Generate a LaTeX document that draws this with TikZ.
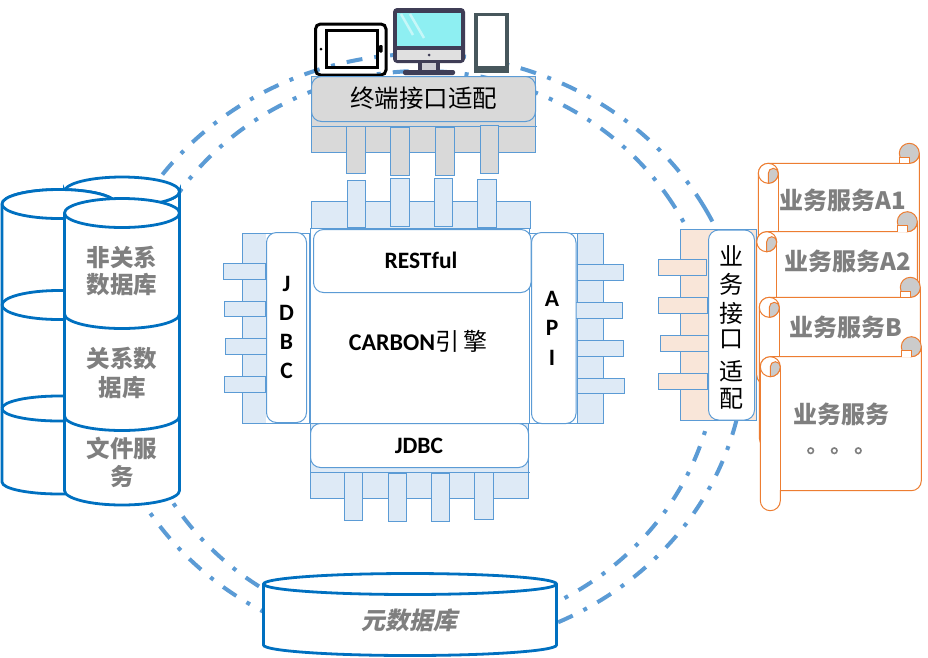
\documentclass[tikz,border=0pt]{standalone}
\usepackage{fontspec}
\setmainfont{Carlito}
\newfontfamily\cjk{Noto Sans CJK SC}
\definecolor{dashblue}{HTML}{5B9BD5}
\definecolor{edgeblue}{HTML}{5B9BD5}
\definecolor{paleblue}{HTML}{DEEAF6}
\definecolor{cylblue}{HTML}{0070C0}
\definecolor{scrollor}{HTML}{ED7D31}
\definecolor{peach}{HTML}{F9E6D9}
\definecolor{greybox}{HTML}{D9D9D9}
\definecolor{greytext}{HTML}{7F7F7F}
\definecolor{rollgrey}{HTML}{CBCBCB}
\definecolor{iconink}{HTML}{3F3D56}
\definecolor{screencyan}{HTML}{8EEFF2}
\definecolor{phoneink}{HTML}{47575C}
\tikzset{
  ring/.style={draw=dashblue,line width=4pt,dash pattern=on 16pt off 12pt on 4pt off 12pt},
  bluebox/.style={draw=edgeblue,fill=paleblue,line width=1pt},
  greyrect/.style={draw=edgeblue,fill=greybox,line width=1pt},
  peachbox/.style={draw=edgeblue,fill=peach,line width=1pt},
  whitebox/.style={draw=edgeblue,fill=white,line width=1pt,rounded corners=10pt},
  cylline/.style={draw=cylblue,line width=2.8pt},
  scrollline/.style={draw=scrollor,line width=1pt},
  darktext/.style={text=black,font=\fontsize{23.5}{26}\selectfont\bfseries,inner sep=0pt},
  cjkdark/.style={text=black,font=\fontsize{24}{26}\selectfont\cjk,inner sep=0pt},
  greylabel/.style={text=greytext,font=\fontsize{24}{26}\selectfont\cjk\bfseries,inner sep=0pt},
}
\newcommand{\boxat}[5]{\path[#1] (#2,#3) rectangle (#4,#5);}
\newcommand{\scrollat}[4]{%
  \pgfmathsetmacro{\Sl}{#1}\pgfmathsetmacro{\Sr}{#2}\pgfmathsetmacro{\St}{#3}\pgfmathsetmacro{\Sb}{#4}%
  \pgfmathsetmacro{\Si}{\Sl+20}\pgfmathsetmacro{\Sc}{\Sl+10}\pgfmathsetmacro{\Srr}{\Sr-10}%
  \pgfmathsetmacro{\Srt}{\St-10}\pgfmathsetmacro{\Sry}{\St-20}\pgfmathsetmacro{\Slc}{\St+10}%
  \pgfmathsetmacro{\Slb}{\St+20}\pgfmathsetmacro{\Sbe}{\Sb-10}\pgfmathsetmacro{\Sbb}{\Sb+10}\pgfmathsetmacro{\Sbc}{\Sb+20}%
  \path[scrollline,fill=white]
    (\Sl,\Slc) arc[start angle=180,end angle=90,radius=10pt] -- (\Srr,\St)
    arc[start angle=270,end angle=360,radius=10pt] -- (\Sr,\Sbe)
    arc[start angle=0,end angle=-90,radius=10pt] -- (\Si,\Sb) -- (\Si,\Sbb)
    arc[start angle=0,end angle=-90,radius=10pt]
    arc[start angle=270,end angle=180,radius=10pt] -- cycle;
  \path[scrollline] (\Si,\Slc) -- (\Si,\Sb);
  \path[scrollline,fill=white] (\Sc,\Slc) circle[radius=10pt];
  \path[scrollline,fill=rollgrey] (\Sc,\Slb)
     -- (\Sc,\Slc) arc[start angle=180,end angle=0,x radius=5pt,y radius=5pt] -- (\Si,\Slc) arc[start angle=0,end angle=-90,radius=10pt] -- cycle;
  \path[scrollline,fill=rollgrey] (\Srr,\Srt) circle[radius=10pt];
  \path[scrollline,fill=white] (\Srr,\St) -- (\Srr,\St-6) -- (\Srr-10,\St-6) -- (\Srr-10,\St);
}
\begin{document}
\begin{tikzpicture}[x=1pt,y=-1pt]
\useasboundingbox (0,0) rectangle (928,657);
\fill[white] (0,0) rectangle (928,657);
% rings
\path (422,352) ++(29:323pt and 298pt) coordinate (ra);
\draw[ring] (ra) arc[start angle=29,delta angle=-360,x radius=323pt,y radius=298pt];
\path (422,352) ++(34:295pt and 281pt) coordinate (rb);
\draw[ring] (rb) arc[start angle=34,delta angle=-360,x radius=295pt,y radius=281pt];
% tablet icon
\draw[black,line width=3pt,rounded corners=5pt] (315.5,24) rectangle (386,75);
\draw[black,line width=3pt] (326,30.5) rectangle (377,67.5);
\fill[black] (321,49) circle[radius=1.5pt];
\fill[black,rounded corners=1pt] (379,45) rectangle (382.5,52.5);
% monitor icon
\fill[iconink,rounded corners=4pt] (393,8) rectangle (465,63);
\fill[iconink,rounded corners=2pt] (403,70) rectangle (455,75);
\fill[iconink] (418,60) rectangle (440,71);
\fill[white!75!iconink] (422,63) rectangle (436,70);
\fill[screencyan] (397,13) rectangle (461,46);
\fill[white!88!black] (397,50) rectangle (461,59.5);
\fill[iconink] (429,55) circle[radius=1.5pt];
\draw[white,opacity=.5,line width=2.5pt] (401,14) -- (413,35) (410,14) -- (424,38);
% phone icon
\fill[phoneink] (474,12.5) rectangle (508.5,72.5);
\fill[white] (477.5,16) rectangle (505,66);
% terminal adapter
\boxat{greyrect}{311.5}{76.5}{535.5}{152.5}
\path[whitebox,fill=greybox] (311.5,76.5) rectangle (535.5,121.5);
\draw[edgeblue,line width=1pt] (311.5,126.5) -- (537,126.5);
\boxat{greyrect}{346.5}{126.5}{365.5}{173}
\boxat{greyrect}{390.5}{127}{409.5}{175}
\boxat{greyrect}{435.5}{127}{454.5}{175}
\boxat{greyrect}{480.5}{125.5}{498.5}{173}
\node[cjkdark,font=\fontsize{24.5}{26}\selectfont\cjk] (term) at (423.5,98) {终端接口适配};
% core top interface
\boxat{bluebox}{311.5}{201.5}{530.5}{228.5}
\boxat{bluebox}{347.5}{180.5}{365.5}{227}
\boxat{bluebox}{390.5}{178.5}{409.5}{226.5}
\boxat{bluebox}{434.5}{178.5}{452.5}{226.5}
\boxat{bluebox}{477.5}{179.5}{496.5}{227}
% left interface
\boxat{bluebox}{242.5}{233.5}{309.5}{423.5}
\path[fill=white] (266,234) rectangle (309,423);
\boxat{bluebox}{223.5}{263.5}{265.5}{279.5}
\boxat{bluebox}{224.5}{301.5}{265.5}{316.5}
\boxat{bluebox}{225.5}{338.5}{266.5}{354.5}
\boxat{bluebox}{224.5}{376.5}{265.5}{392.5}
\path[whitebox] (266.5,232.5) rectangle (306.5,422.5);
% right interface
\boxat{bluebox}{529.5}{233.5}{603.5}{423.5}
\path[fill=white] (530,234) rectangle (577,423);
\draw[edgeblue,line width=1pt] (577.5,233.5) -- (577.5,423.5);
\boxat{bluebox}{577.5}{264.5}{623.5}{280.5}
\boxat{bluebox}{575.5}{302.5}{622.5}{318.5}
\boxat{bluebox}{577.5}{340.5}{623.5}{356.5}
\boxat{bluebox}{577.5}{378.5}{624.5}{393.5}
\path[whitebox] (531.5,232.5) rectangle (576,423.5);
% bottom interface
\boxat{bluebox}{310.5}{423.5}{528.5}{498.5}
\draw[edgeblue,line width=1pt] (310.5,472.5) -- (530,472.5);
\boxat{bluebox}{344.5}{472.5}{362.5}{520.5}
\boxat{bluebox}{388.5}{473.5}{406.5}{521.5}
\boxat{bluebox}{431.5}{473.5}{449.5}{521.5}
\boxat{bluebox}{474.5}{472.5}{493.5}{519.5}
% core
\path[draw=edgeblue,fill=white,line width=1pt] (310.5,228) rectangle (529.5,423.5);
\path[whitebox] (313.5,229.5) rectangle (531,292.5);
\path[whitebox] (310.5,423.5) rectangle (528.5,467.5);
\node[darktext] (rest) at (421,260.5) {RESTful};
\node[darktext,font=\fontsize{24}{26}\selectfont\bfseries] (carbon) at (418,341) {CARBON{\cjk\mdseries 引\,擎}};
\node[darktext] (jdbcb) at (419,445.5) {JDBC};
\node[darktext,align=center,font=\fontsize{23.5}{29}\selectfont\bfseries] (jdbcl) at (286.5,327) {J\\D\\B\\C};
\node[darktext,align=center,font=\fontsize{23.5}{29.5}\selectfont\bfseries] (api) at (552,328) {A\\P\\I};
% business adapter
\boxat{peachbox}{680.5}{229.5}{756.5}{420.5}
\boxat{peachbox}{658.5}{259.5}{706.5}{275.5}
\boxat{peachbox}{658.5}{297.5}{707.5}{313.5}
\boxat{peachbox}{660.5}{335.5}{708.5}{351.5}
\boxat{peachbox}{658.5}{373.5}{707.5}{389.5}
\path[whitebox] (708.5,230) rectangle (754.5,420);
\node[cjkdark] (ba1) at (731.7,256) {业};
\node[cjkdark] (ba2) at (731.7,284.5) {务};
\node[cjkdark] (ba3) at (731.7,313.5) {接};
\node[cjkdark] (ba4) at (731.7,339) {口};
\node[cjkdark] (ba5) at (731.7,371.5) {适};
\node[cjkdark] (ba6) at (731.7,398.5) {配};
% scrolls
\scrollat{758.3}{919.3}{163.3}{320}
\scrollat{756.7}{917.3}{231.7}{365}
\scrollat{759.3}{920.3}{297.3}{428}
\scrollat{760.3}{921.3}{356.7}{490.7}
\node[greylabel] (s1) at (842.5,200.5) {业务服务A1};
\node[greylabel] (s2) at (847.5,261) {业务服务A2};
\node[greylabel] (s3) at (846,327) {业务服务B};
\node[greylabel] (s4) at (841.5,414) {业务服务};
\foreach \n/\x in {d1/810.7,d2/834.3,d3/858.3}
  \node[draw=greytext,circle,line width=1.6pt,minimum size=5.5pt,inner sep=0pt] (\n) at (\x,450.7) {};
% databases
\path[cylline,fill=white] (64.5,191.5) arc[start angle=180,end angle=360,x radius=57.5pt,y radius=14.5pt] -- (179.5,400) -- (64.5,400) -- cycle;
\path[cylline,fill=white] (64.5,191.5) arc[start angle=180,end angle=0,x radius=57.5pt,y radius=14.5pt] arc[start angle=0,end angle=-180,x radius=57.5pt,y radius=14.5pt];
\path[cylline,fill=white] (2,204) -- (2,482) arc[start angle=180,end angle=270,x radius=57.5pt,y radius=12pt] -- (116,494) -- (116,204) arc[start angle=0,end angle=180,x radius=57pt,y radius=14.5pt];
\path[cylline,fill=white] (2,204) arc[start angle=180,end angle=-180,x radius=57pt,y radius=14.5pt];
\path[cylline] (2,305) arc[start angle=180,end angle=0,x radius=57pt,y radius=14.5pt] arc[start angle=0,end angle=-180,x radius=57pt,y radius=14.5pt];
\path[cylline] (2,408.5) arc[start angle=180,end angle=0,x radius=57pt,y radius=12.5pt] arc[start angle=0,end angle=-180,x radius=57pt,y radius=12.5pt];
\path[cylline,fill=white] (64.5,213) -- (64.5,490.5) arc[start angle=180,end angle=360,x radius=57.5pt,y radius=14.5pt] -- (179.5,213) arc[start angle=0,end angle=180,x radius=57.5pt,y radius=14.5pt] -- cycle;
\path[cylline] (64.5,213) arc[start angle=180,end angle=360,x radius=57.5pt,y radius=14.5pt];
\path[cylline] (64.5,314) arc[start angle=180,end angle=360,x radius=57.5pt,y radius=14.5pt];
\path[cylline] (64.5,416) arc[start angle=180,end angle=360,x radius=57.5pt,y radius=14.5pt];
\node[greylabel,font=\fontsize{23.5}{26}\selectfont\cjk\bfseries] (db1) at (122,257) {非关系};
\node[greylabel,font=\fontsize{23.5}{26}\selectfont\cjk\bfseries] (db2) at (122,285) {数据库};
\node[greylabel,font=\fontsize{23.5}{26}\selectfont\cjk\bfseries] (db3) at (122,359) {关系数};
\node[greylabel,font=\fontsize{23.5}{26}\selectfont\cjk\bfseries] (db4) at (122,388) {据库};
\node[greylabel,font=\fontsize{23.5}{26}\selectfont\cjk\bfseries] (db5) at (122,448) {文件服};
\node[greylabel,font=\fontsize{23.5}{26}\selectfont\cjk\bfseries] (db6) at (122,477) {务};
% metadata cylinder
\path[cylline,fill=white] (263.5,584) -- (263.5,645) arc[start angle=180,end angle=360,x radius=146.5pt,y radius=10.5pt] -- (556.5,584) arc[start angle=0,end angle=180,x radius=146.5pt,y radius=10.5pt] -- cycle;
\path[cylline] (263.5,584) arc[start angle=180,end angle=360,x radius=146.5pt,y radius=10.5pt];
\node[greylabel,xslant=.2,transform shape] (meta) at (411,620) {元数据库};
\end{tikzpicture}
\end{document}
